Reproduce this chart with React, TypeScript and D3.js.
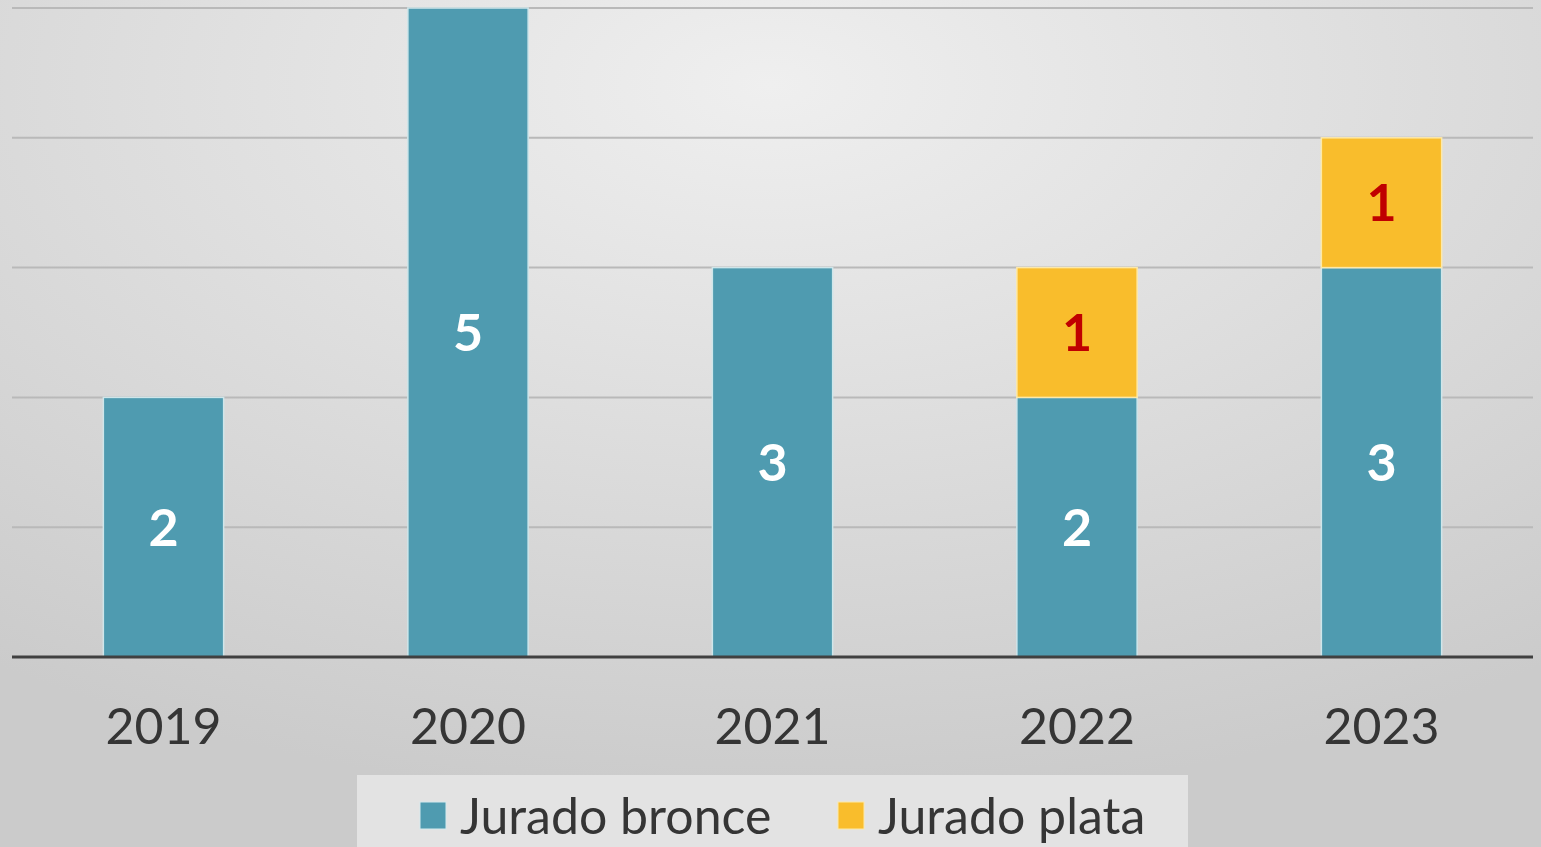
import { useRef, useEffect } from 'react'
import * as d3 from 'd3'

const width = 1541
const height = 847

const years = ['2019', '2020', '2021', '2022', '2023']
const bronce = [2, 5, 3, 2, 3]
const plata = [0, 0, 0, 1, 1]
const seriesNames = ['Jurado bronce', 'Jurado plata']
const yTicks = [0, 1, 2, 3, 4, 5]

const colors = { bronce: '#4f9bb0', plata: '#f9bd2c' }
const font = 'Lato, "Open Sans", sans-serif'

const App = () => {
  const svgRef = useRef<SVGSVGElement>(null)

  useEffect(() => {
    const svg = d3.select(svgRef.current)
    svg.selectAll('*').remove()

    const x = d3.scaleBand().domain(years).range([12, 1533]).paddingInner(0.605).paddingOuter(0.3)
    const y = d3.scaleLinear().domain([0, 5]).range([657, 8])

    // background gradient
    const defs = svg.append('defs')
    const grad = defs.append('radialGradient').attr('id', 'bg')
      .attr('cx', '50%').attr('cy', '10%').attr('r', '85%')
    grad.append('stop').attr('offset', '0%').attr('stop-color', '#efefef')
    grad.append('stop').attr('offset', '100%').attr('stop-color', '#cbcbcb')
    svg.append('rect').attr('width', width).attr('height', height).attr('fill', 'url(#bg)')

    // gridlines
    svg.append('g').selectAll('line')
      .data(yTicks.filter(t => t > 0))
      .join('line')
      .attr('x1', 12).attr('x2', 1533)
      .attr('y1', d => y(d)).attr('y2', d => y(d))
      .attr('stroke', '#b9b9b9').attr('stroke-width', 2)

    const stacked = d3.stack<number>()
      .keys(['bronce', 'plata'])
      .value((i, key) => (key === 'bronce' ? bronce[i] : plata[i]))(years.map((_, i) => i))

    stacked.forEach(layer => {
      const key = layer.key as 'bronce' | 'plata'
      const g = svg.append('g')
      layer.forEach((seg, i) => {
        if (seg[1] - seg[0] <= 0) return
        const x0 = x(years[i])!
        g.append('rect')
          .attr('x', x0).attr('width', x.bandwidth())
          .attr('y', y(seg[1])).attr('height', y(seg[0]) - y(seg[1]))
          .attr('fill', colors[key])
          .attr('stroke', key === 'bronce' ? '#cfe6ea' : '#fde9a8').attr('stroke-width', 1.5)
        g.append('text')
          .attr('x', x0 + x.bandwidth() / 2)
          .attr('y', (y(seg[0]) + y(seg[1])) / 2)
          .attr('dy', '0.36em')
          .attr('text-anchor', 'middle')
          .attr('font-family', font).attr('font-weight', 'bold').attr('font-size', 52)
          .attr('fill', key === 'bronce' ? '#ffffff' : '#c00000')
          .text(seg[1] - seg[0])
      })
    })

    // baseline
    svg.append('line').attr('x1', 12).attr('x2', 1533).attr('y1', y(0)).attr('y2', y(0))
      .attr('stroke', '#404040').attr('stroke-width', 3)

    // x labels
    svg.append('g').selectAll('text')
      .data(years)
      .join('text')
      .attr('x', d => x(d)! + x.bandwidth() / 2)
      .attr('y', 744)
      .attr('text-anchor', 'middle')
      .attr('font-family', font).attr('font-size', 50)
      .attr('fill', '#353535')
      .text(d => d)

    // legend
    const lg = svg.append('g')
    lg.append('rect').attr('x', 357).attr('y', 775).attr('width', 831).attr('height', 80).attr('fill', '#e3e3e3')
    const legendX = [420, 838]
    seriesNames.forEach((name, i) => {
      lg.append('rect').attr('x', legendX[i]).attr('y', 802).attr('width', 26).attr('height', 27)
        .attr('fill', i === 0 ? colors.bronce : colors.plata)
        .attr('stroke', i === 0 ? '#d6eaee' : '#fde9a8').attr('stroke-width', 1)
      lg.append('text').attr('x', legendX[i] + 40).attr('y', 834)
        .attr('font-family', font).attr('font-size', 50).attr('fill', '#353535')
        .text(name)
    })
  }, [])

  return <svg ref={svgRef} width={width} height={height} style={{ position: 'absolute', left: 0, top: 0 }} />
}

export default App
